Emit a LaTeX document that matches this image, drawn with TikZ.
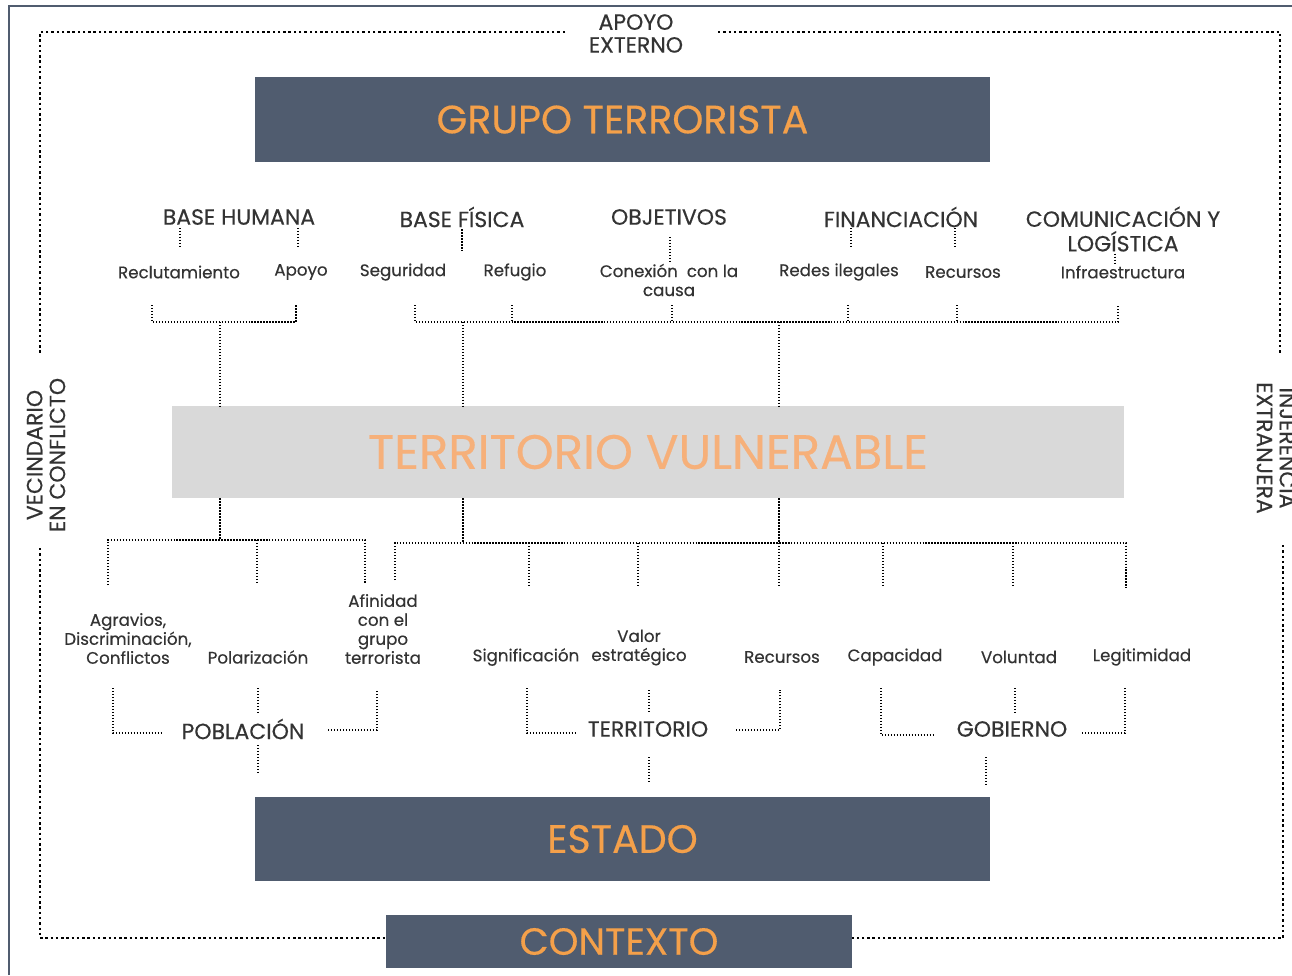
\documentclass[tikz,border=0pt]{standalone}
\usepackage{fontspec}
\setmainfont{Poppins}[FakeBold=0.4]
\usetikzlibrary{positioning}
\definecolor{pizarra}{HTML}{505C6F}
\definecolor{naranja}{HTML}{F4A04A}
\definecolor{naranjaclaro}{HTML}{F6B07A}
\definecolor{grisclaro}{HTML}{D9D9D9}
\definecolor{tinta}{HTML}{333333}
\tikzset{x=0.02cm, y=-0.02cm, % one unit is one pixel of the drawing
      bloque/.style={ % dark boxes for the main actors
      fill=pizarra, text=naranja, inner sep=0pt,
      font=\fontsize{22.5}{26}\selectfont},
      zona/.style={ % light box in the middle
      fill=grisclaro, text=naranjaclaro, inner sep=0pt,
      font=\fontsize{27.5}{31}\selectfont},
      titulo/.style={text=tinta, align=center, inner sep=1pt,
      font=\fontsize{12.5}{14}\selectfont},
      factor/.style={text=tinta, align=center, inner sep=1pt,
      font=\fontsize{9.5}{10.8}\selectfont},
      lado/.style={text=tinta, align=center, inner sep=1pt,
      font=\fontsize{12.5}{13}\selectfont},
      conn/.style={ % fine dotted connectors
      draw=black, line width=0.8pt, dash pattern=on 0.8pt off 0.9pt},
      marco/.style={ % heavy dotted outer frame
      draw=black, line width=1.4pt, dash pattern=on 1.4pt off 1.6pt}}

\begin{document}
\begin{tikzpicture}
      \useasboundingbox (0,0) rectangle (1292,975);
      \draw[pizarra, line width=1pt] (9,975) -- (9,6) -- (1292,6);
      % main boxes
      \node[bloque, minimum width=14.7cm, minimum height=1.7cm] (grupo) at (622.5,119.5) {GRUPO TERRORISTA};
      \node[zona, minimum width=19.04cm, minimum height=1.84cm] (terr) at (648,452) {TERRITORIO VULNERABLE};
      \node[bloque, minimum width=14.7cm, minimum height=1.68cm, font=\fontsize{22.5}{26}\selectfont] (estado) at (622.5,839) {ESTADO};
      \node[bloque, minimum width=9.32cm, minimum height=1.06cm, font=\fontsize{21.5}{25}\selectfont] (contexto) at (619,941.5) {CONTEXTO};
      % outer labels
      \node[lado] (apoyoext) at (636,33.5) {APOYO\\EXTERNO};
      \node[lado, rotate=90] (vecino) at (46,455) {VECINDARIO\\EN CONFLICTO};
      \node[lado, rotate=-90] (injer) at (1276,448) {INJERENCIA\\EXTRANJERA};
      % outer frame
      \coordinate (esqA) at (40,32);
      \coordinate (esqB) at (1280,32);
      \coordinate (esqC) at (40,938);
      \coordinate (esqD) at (1283,938);
      \draw[marco] (565,32) -- (esqA) -- (40,355);
      \draw[marco] (718,32) -- (esqB) -- (1280,355);
      \draw[marco] (40,548) -- (esqC) -- (contexto.west |- esqC);
      \draw[marco] (1283,545) -- (esqD) -- (contexto.east |- esqD);
      % needs of the group
      \node[titulo] (bhum) at (239,217) {BASE HUMANA};
      \node[titulo] (bfis) at (462,217) {BASE FÍSICA};
      \node[titulo] (objet) at (669,217) {OBJETIVOS};
      \node[titulo] (finan) at (901,217) {FINANCIACIÓN};
      \node[titulo] (comun) at (1123,229) {COMUNICACIÓN Y\\LOGÍSTICA};
      \node[factor] (reclu) at (179,272) {Reclutamiento};
      \node[factor] (apoyo) at (301,272) {Apoyo};
      \node[factor] (segur) at (403,272) {Seguridad};
      \node[factor] (refug) at (515,272) {Refugio};
      \node[factor] (conex) at (669,280) {Conexión~ con la\\causa};
      \node[factor] (redes) at (839,272) {Redes ilegales};
      \node[factor] (recA) at (963,272) {Recursos};
      \node[factor] (infra) at (1123,272) {Infraestructura};
      \draw[conn] (180,228) -- (180,248);
      \draw[conn] (298,228) -- (298,248);
      \draw[conn] (bfis.south) -- ++(0,22);
      \draw[conn] (670,237) -- (conex.north -| 670,0);
      \draw[conn] (851,228) -- (851,248);
      \draw[conn] (955,228) -- (955,248);
      \draw[conn] (comun.south -| 1115,0) -- (infra.north -| 1115,0);
      % upper buses
      \draw[conn] (152,305) -- (152,322) -- (296,322) -- (296,305);
      \draw[conn] (415,305) -- (415,322) -- (1118,322) -- (1118,305);
      \foreach \x in {512,672,848,957}
            \draw[conn] (\x,305) -- (\x,322);
      \foreach \x in {220,463,779}
            \draw[conn] (\x,322) -- (\x,0 |- terr.north);
      % lower buses
      \draw[conn] (220,0 |- terr.south) -- (220,540);
      \draw[conn] (108,585) -- (108,540) -- (365,540) -- (365,583);
      \draw[conn] (257,540) -- (257,583);
      \foreach \x in {463,779}
            \draw[conn] (\x,0 |- terr.south) -- (\x,543);
      \draw[conn] (395,580) -- (395,543) -- (1126,543) -- (1126,588);
      \foreach \x in {529,638,779,883,1013}
            \draw[conn] (\x,543) -- (\x,585);
      % factors of the state
      \node[factor] (agrav) at (128,638.5) {Agravios,\\Discriminación,\\Conflictos};
      \node[factor] (polar) at (258,657) {Polarización};
      \node[factor] (afini) at (383,629) {Afinidad\\con el\\grupo\\terrorista};
      \node[factor] (signi) at (526,657) {Significación};
      \node[factor] (valor) at (639,647.5) {Valor\\estratégico};
      \node[factor] (recB) at (782,657) {Recursos};
      \node[factor] (capac) at (895,657) {Capacidad};
      \node[factor] (volun) at (1019,657) {Voluntad};
      \node[factor] (legit) at (1142,657) {Legitimidad};
      \node[titulo] (pobl) at (243,729) {POBLACIÓN};
      \node[titulo] (terrlab) at (648,729) {TERRITORIO};
      \node[titulo] (gob) at (1012,729) {GOBIERNO};
      % population
      \draw[conn] (113,688) |- (163,733);
      \draw[conn] (258,688) -- (258,712);
      \draw[conn] (328,730) -| (377,690);
      \draw[conn] (258,745) -- (258,772);
      % territory
      \draw[conn] (527,688) |- (576,733);
      \draw[conn] (649,690) -- (649,712);
      \draw[conn] (736,730) -| (780,690);
      \draw[conn] (649,757) -- (649,782);
      % government
      \draw[conn] (881,688) |- (933,735);
      \draw[conn] (1015,688) -- (1015,712);
      \draw[conn] (1082,733) -| (1125,688);
      \draw[conn] (986,757) -- (986,785);
\end{tikzpicture}
\end{document}
